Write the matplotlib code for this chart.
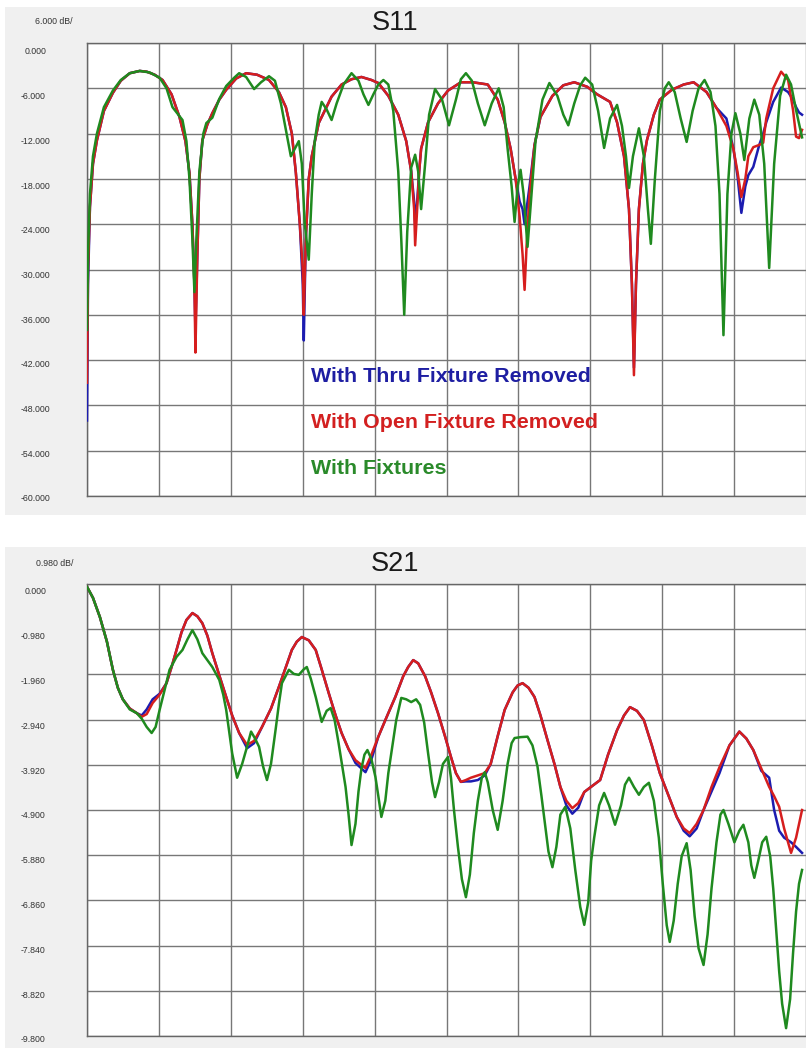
import matplotlib
matplotlib.use("Agg")
import matplotlib.pyplot as plt
from matplotlib.patches import Rectangle

# ---------------- data (x in grid divisions / GHz, y in dB) ----------------
s11_x = [0.000, 0.014, 0.041, 0.083, 0.138, 0.235, 0.360, 0.470, 0.595, 0.733,
         0.830, 0.941, 1.051, 1.176, 1.286, 1.369, 1.425, 1.466, 1.494, 1.508,
         1.535, 1.563, 1.604, 1.674, 1.743, 1.840, 1.936, 2.075, 2.213, 2.365,
         2.531, 2.669, 2.766, 2.849, 2.905, 2.960, 3.001, 3.015, 3.043, 3.084,
         3.126, 3.223, 3.402, 3.541, 3.679, 3.817, 3.956, 4.052, 4.191, 4.329,
         4.440, 4.509, 4.550, 4.564, 4.592, 4.620, 4.647, 4.744, 4.882, 5.021,
         5.200, 5.366, 5.574, 5.712, 5.809, 5.892, 5.961, 6.017, 6.058, 6.086,
         6.113, 6.155, 6.224, 6.307, 6.473, 6.625, 6.777, 6.957, 7.095, 7.275,
         7.372, 7.469, 7.538, 7.579, 7.607, 7.635, 7.676, 7.732, 7.787, 7.884,
         7.967, 8.133, 8.299, 8.437, 8.617, 8.755, 8.893, 8.990, 9.046, 9.101,
         9.156, 9.198, 9.267, 9.350, 9.405, 9.447, 9.544, 9.654, 9.751, 9.820,
         9.862, 9.903, 9.945]
s11_open = [-45, -30, -21.7, -16, -12.9, -9, -6.6, -5, -4.0, -3.7,
            -3.8, -4.2, -4.9, -6.8, -9.8, -13, -17.2, -24, -32, -41,
            -28, -18, -12.9, -10.8, -9.3, -7.5, -6.2, -4.7, -4.0, -4.2,
            -4.9, -6.5, -8.5, -12, -17.2, -24, -30, -36, -26, -18,
            -15, -10.6, -7.1, -5.5, -4.8, -4.5, -4.9, -5.3, -7, -9.5,
            -13, -17, -22, -26.8, -22, -17, -14, -10.5, -8, -6.3,
            -5.2, -5.2, -5.5, -7.5, -10.5, -14, -18, -23, -28, -32.7,
            -27, -20, -13.5, -9.8, -7, -5.6, -5.2, -5.8, -6.8, -7.8,
            -10.5, -15, -22, -32, -44, -32, -22, -16, -12.9, -9.5,
            -7.5, -6.2, -5.5, -5.2, -6.5, -8.6, -11, -14, -17, -20.4,
            -18, -15, -13.8, -13.5, -13.2, -10, -6, -3.8, -4.9, -8.9,
            -12.4, -12.6, -11.5]
s11_thru = [-50, -32, -21.7, -16, -12.9, -9, -6.6, -5, -4.0, -3.7,
            -3.8, -4.2, -4.9, -6.8, -9.8, -13, -17.2, -24, -32, -38,
            -28, -18, -12.9, -10.8, -9.3, -7.5, -6.2, -4.7, -4.0, -4.2,
            -4.9, -6.5, -8.5, -12, -17.2, -24, -32, -39.4, -26, -18,
            -15, -10.6, -7.1, -5.5, -4.8, -4.5, -4.9, -5.3, -7, -9.5,
            -13, -17, -21, -24, -21, -17, -14, -10.5, -8, -6.3,
            -5.2, -5.2, -5.5, -7.5, -10.5, -14, -18, -21, -22, -24,
            -22, -19, -13.5, -9.8, -7, -5.6, -5.2, -5.8, -6.8, -7.8,
            -10.5, -15, -22, -32, -43, -32, -22, -16, -12.9, -9.5,
            -7.5, -6.2, -5.5, -5.2, -6.5, -8.6, -10, -14, -17.5, -22.5,
            -19, -17.5, -16.4, -13.5, -12, -10.5, -7.8, -5.9, -6.5, -7.5,
            -8.5, -9.2, -9.5]

s11_fix_x = [0.000, 0.014, 0.041, 0.083, 0.138, 0.235, 0.360, 0.470, 0.595, 0.733,
             0.871, 1.010, 1.106, 1.189, 1.328, 1.383, 1.425, 1.466, 1.494, 1.521,
             1.563, 1.618, 1.660, 1.743, 1.840, 1.936, 2.047, 2.116, 2.213, 2.324,
             2.420, 2.531, 2.614, 2.697, 2.766, 2.835, 2.891, 2.946, 2.988, 3.029,
             3.084, 3.126, 3.167, 3.223, 3.264, 3.333, 3.402, 3.472, 3.568, 3.679,
             3.776, 3.845, 3.914, 3.983, 4.052, 4.122, 4.191, 4.260, 4.329, 4.371,
             4.412, 4.454, 4.509, 4.564, 4.606, 4.647, 4.703, 4.758, 4.841, 4.938,
             5.035, 5.131, 5.200, 5.270, 5.353, 5.436, 5.532, 5.629, 5.726, 5.795,
             5.850, 5.906, 5.947, 5.989, 6.030, 6.072, 6.127, 6.183, 6.238, 6.335,
             6.431, 6.542, 6.625, 6.694, 6.777, 6.860, 6.929, 7.026, 7.109, 7.192,
             7.275, 7.372, 7.441, 7.496, 7.538, 7.593, 7.676, 7.745, 7.801, 7.842,
             7.898, 7.967, 8.036, 8.091, 8.174, 8.257, 8.340, 8.423, 8.506, 8.589,
             8.672, 8.741, 8.797, 8.852, 8.907, 8.963, 9.018, 9.087, 9.142, 9.212,
             9.281, 9.350, 9.419, 9.488, 9.557, 9.640, 9.723, 9.792, 9.862, 9.945]
s11_fix = [-38, -28, -20, -15, -12, -8.5, -6.3, -4.9, -4.0, -3.7,
           -3.9, -4.6, -6.0, -8.5, -10.2, -13, -18, -26, -33, -26,
           -17, -12, -10.6, -9.9, -7.4, -5.7, -4.6, -4.0, -4.5, -6.1,
           -5.2, -4.4, -5, -8, -11.5, -15, -14, -13, -16, -24,
           -28.7, -20, -13, -9.5, -7.8, -8.8, -10.2, -8, -5.5, -4.0,
           -5, -6.8, -8.2, -6.8, -5.5, -4.9, -5.5, -9, -17, -26,
           -36, -25, -16.5, -14.8, -17, -22, -16, -9.5, -6.1, -7.5,
           -10.9, -7.5, -4.8, -4.0, -5, -8, -10.9, -8, -6.0, -8.5,
           -14, -19, -23.7, -19, -16.8, -20, -27, -20, -13, -7.5,
           -5.3, -7, -9.5, -10.9, -8, -5.6, -4.6, -5.5, -9, -13.9,
           -10, -8.2, -11, -15, -19.2, -15, -11.3, -15, -22, -26.6,
           -18, -9, -6, -5.2, -6.5, -10, -13.1, -9, -6, -4.9,
           -6.5, -11, -20, -38.7, -20, -12, -9.3, -12, -15.5, -10,
           -7.5, -9.5, -16, -29.8, -16, -7, -4.2, -5.5, -8.9, -12.5]

s21_x = [0.000, 0.083, 0.180, 0.277, 0.360, 0.429, 0.498, 0.595, 0.692, 0.761,
         0.830, 0.913, 1.010, 1.106, 1.176, 1.245, 1.314, 1.383, 1.466, 1.535,
         1.604, 1.674, 1.743, 1.840, 1.936, 2.019, 2.116, 2.227, 2.324, 2.434,
         2.559, 2.669, 2.766, 2.849, 2.918, 2.988, 3.084, 3.181, 3.264, 3.361,
         3.458, 3.541, 3.638, 3.734, 3.873, 3.956, 4.052, 4.163, 4.288, 4.398,
         4.467, 4.537, 4.606, 4.703, 4.786, 4.882, 4.979, 5.062, 5.131, 5.200,
         5.270, 5.339, 5.436, 5.532, 5.615, 5.712, 5.809, 5.920, 5.989, 6.058,
         6.141, 6.224, 6.307, 6.404, 6.501, 6.584, 6.667, 6.750, 6.833, 6.916,
         7.026, 7.137, 7.247, 7.372, 7.469, 7.552, 7.649, 7.745, 7.856, 7.967,
         8.091, 8.202, 8.299, 8.382, 8.479, 8.575, 8.686, 8.797, 8.935, 9.073,
         9.170, 9.267, 9.378, 9.488, 9.557, 9.627, 9.696, 9.792, 9.862, 9.945]
s21_open = [-0.06, -0.3, -0.72, -1.25, -1.86, -2.25, -2.5, -2.7, -2.8, -2.88,
            -2.82, -2.58, -2.4, -2.15, -1.8, -1.43, -1.05, -0.78, -0.63, -0.7,
            -0.85, -1.12, -1.5, -1.98, -2.45, -2.85, -3.23, -3.49, -3.4, -3.1,
            -2.7, -2.23, -1.8, -1.43, -1.25, -1.15, -1.22, -1.43, -1.85, -2.36,
            -2.85, -3.23, -3.58, -3.82, -3.99, -3.7, -3.31, -2.9, -2.45, -2.0,
            -1.8, -1.65, -1.72, -2.0, -2.35, -2.8, -3.3, -3.75, -4.1, -4.29,
            -4.25, -4.2, -4.15, -4.1, -3.9, -3.3, -2.73, -2.35, -2.2, -2.15,
            -2.25, -2.45, -2.85, -3.38, -3.9, -4.4, -4.7, -4.86, -4.75, -4.51,
            -4.38, -4.25, -3.7, -3.17, -2.85, -2.67, -2.75, -2.95, -3.5, -4.1,
            -4.6, -5.05, -5.3, -5.4, -5.2, -4.9, -4.4, -3.97, -3.5, -3.2,
            -3.35, -3.6, -4.0, -4.4, -4.6, -4.83, -5.3, -5.83, -5.5, -4.9]
s21_thru = [-0.06, -0.3, -0.72, -1.25, -1.86, -2.25, -2.5, -2.7, -2.8, -2.85,
            -2.72, -2.5, -2.38, -2.15, -1.8, -1.43, -1.05, -0.78, -0.63, -0.7,
            -0.85, -1.12, -1.5, -1.98, -2.45, -2.85, -3.23, -3.56, -3.45, -3.1,
            -2.7, -2.23, -1.8, -1.43, -1.25, -1.15, -1.22, -1.43, -1.85, -2.36,
            -2.85, -3.23, -3.58, -3.88, -4.08, -3.8, -3.31, -2.9, -2.45, -2.0,
            -1.8, -1.65, -1.72, -2.0, -2.35, -2.8, -3.3, -3.75, -4.1, -4.29,
            -4.28, -4.28, -4.25, -4.15, -3.9, -3.3, -2.73, -2.35, -2.2, -2.15,
            -2.25, -2.45, -2.85, -3.38, -3.9, -4.4, -4.8, -4.98, -4.85, -4.51,
            -4.38, -4.25, -3.7, -3.17, -2.85, -2.67, -2.75, -2.95, -3.5, -4.1,
            -4.6, -5.05, -5.35, -5.47, -5.3, -4.9, -4.5, -4.1, -3.5, -3.2,
            -3.35, -3.6, -4.05, -4.2, -4.9, -5.35, -5.5, -5.6, -5.7, -5.83]

s21_fix_x = [0.000, 0.083, 0.180, 0.277, 0.360, 0.429, 0.498, 0.595, 0.692, 0.761,
             0.830, 0.899, 0.954, 1.010, 1.079, 1.148, 1.245, 1.328, 1.397, 1.466,
             1.535, 1.604, 1.674, 1.743, 1.840, 1.895, 1.936, 1.978, 2.019, 2.088,
             2.158, 2.213, 2.282, 2.337, 2.393, 2.448, 2.503, 2.559, 2.628, 2.669,
             2.711, 2.808, 2.877, 2.946, 3.015, 3.057, 3.112, 3.181, 3.264, 3.333,
             3.389, 3.444, 3.499, 3.555, 3.596, 3.638, 3.679, 3.734, 3.776, 3.817,
             3.859, 3.900, 3.956, 4.011, 4.052, 4.094, 4.149, 4.191, 4.232, 4.301,
             4.371, 4.440, 4.509, 4.578, 4.633, 4.689, 4.744, 4.799, 4.841, 4.896,
             4.951, 5.021, 5.062, 5.104, 5.159, 5.214, 5.270, 5.325, 5.380, 5.436,
             5.491, 5.532, 5.574, 5.643, 5.712, 5.781, 5.850, 5.906, 5.947, 6.030,
             6.127, 6.196, 6.265, 6.321, 6.362, 6.418, 6.473, 6.528, 6.584, 6.653,
             6.722, 6.791, 6.860, 6.916, 6.971, 7.012, 7.054, 7.123, 7.192, 7.261,
             7.344, 7.427, 7.483, 7.538, 7.607, 7.676, 7.745, 7.815, 7.884, 7.953,
             8.008, 8.063, 8.105, 8.160, 8.216, 8.271, 8.340, 8.395, 8.451, 8.506,
             8.575, 8.631, 8.686, 8.755, 8.810, 8.852, 8.921, 9.004, 9.073, 9.129,
             9.198, 9.239, 9.281, 9.336, 9.391, 9.447, 9.502, 9.544, 9.585, 9.627,
             9.668, 9.723, 9.779, 9.820, 9.862, 9.903, 9.945]
s21_fix = [-0.06, -0.3, -0.72, -1.25, -1.86, -2.25, -2.5, -2.72, -2.8, -2.92,
           -3.1, -3.23, -3.1, -2.73, -2.3, -1.86, -1.58, -1.43, -1.2, -1.0,
           -1.2, -1.5, -1.65, -1.8, -2.08, -2.4, -2.73, -3.2, -3.67, -4.2,
           -3.9, -3.6, -3.2, -3.35, -3.53, -3.95, -4.25, -3.9, -3.1, -2.6,
           -2.15, -1.86, -1.95, -1.97, -1.85, -1.8, -2.05, -2.45, -2.99, -2.75,
           -2.69, -2.95, -3.45, -4.0, -4.4, -5.0, -5.66, -5.2, -4.5, -4.0,
           -3.7, -3.6, -3.8, -4.18, -4.6, -5.05, -4.7, -4.1, -3.67, -2.95,
           -2.47, -2.5, -2.56, -2.5, -2.62, -3.0, -3.67, -4.3, -4.62, -4.3,
           -3.9, -3.75, -4.2, -4.9, -5.7, -6.4, -6.79, -6.3, -5.4, -4.7,
           -4.2, -4.08, -4.3, -4.9, -5.33, -4.7, -3.9, -3.45, -3.34, -3.32,
           -3.31, -3.5, -3.95, -4.6, -5.1, -5.8, -6.14, -5.7, -5.0, -4.83,
           -5.3, -6.2, -7.0, -7.39, -6.9, -6.0, -5.5, -4.8, -4.53, -4.8,
           -5.22, -4.8, -4.35, -4.2, -4.4, -4.57, -4.4, -4.31, -4.7, -5.5,
           -6.5, -7.4, -7.76, -7.3, -6.5, -5.9, -5.62, -6.2, -7.2, -7.9,
           -8.26, -7.6, -6.6, -5.6, -5.0, -4.9, -5.2, -5.6, -5.35, -5.22,
           -5.6, -6.1, -6.37, -6.0, -5.6, -5.48, -5.9, -6.6, -7.5, -8.4,
           -9.1, -9.63, -9.0, -8.0, -7.1, -6.5, -6.2]

s11_ticks = [0.0, -6.0, -12.0, -18.0, -24.0, -30.0, -36.0, -42.0, -48.0, -54.0, -60.0]
s21_ticks = [0.0, -0.98, -1.96, -2.94, -3.92, -4.90, -5.88, -6.86, -7.84, -8.82, -9.80]
x_ticks = [0, 1, 2, 3, 4, 5, 6, 7, 8, 9, 10]
legend_labels = ["With Thru Fixture Removed", "With Open Fixture Removed", "With Fixtures"]

# ---------------- style / layout ----------------
W, H = 806, 1048
C_BLUE, C_RED, C_GREEN = "#1c1cb0", "#d61e1e", "#1f8a1f"
T_BLUE, T_RED, T_GREEN = "#1e1ea2", "#d32020", "#2a8a2a"
GRID = "#777777"
PANEL = "#f0f0f0"
FONT = "Liberation Sans"

fig = plt.figure(figsize=(W / 100, H / 100), dpi=100)
fig.patch.set_facecolor("white")

def fx(x):
    return x / W

def fy(y):
    return 1 - y / H

for (x0, y0, x1, y1) in [(5, 7, 806, 515), (5, 547, 806, 1048)]:
    fig.patches.append(Rectangle((fx(x0), fy(y1)), (x1 - x0) / W, (y1 - y0) / H,
                                 transform=fig.transFigure, facecolor=PANEL,
                                 edgecolor="none", zorder=-5))

def make_axes(top_px, bot_px, ticks):
    ax = fig.add_axes([fx(87), fy(bot_px), (806 - 87) / W, (bot_px - top_px) / H])
    ax.set_zorder(1)
    ax.set_facecolor("white")
    ax.set_xlim(0, 9.945)
    ax.set_ylim(ticks[-1], ticks[0])
    ax.set_xticks(x_ticks)
    ax.set_yticks(ticks)
    ax.tick_params(length=0, labelleft=False, labelbottom=False)
    ax.grid(True, color=GRID, lw=1.0)
    ax.set_axisbelow(True)
    for s in ("top", "left", "bottom"):
        ax.spines[s].set_color("#666666")
        ax.spines[s].set_linewidth(1.0)
    ax.spines["right"].set_visible(False)
    return ax

ax1 = make_axes(43, 496, s11_ticks)
ax2 = make_axes(584, 1036, s21_ticks)

lw = 1.8
ax1.plot(s11_x, s11_thru, color=C_BLUE, lw=lw, zorder=3)
ax1.plot(s11_x, s11_open, color=C_RED, lw=lw, zorder=4)
ax1.plot(s11_fix_x, s11_fix, color=C_GREEN, lw=lw, zorder=5)

ax2.plot(s21_x, s21_thru, color=C_BLUE, lw=lw, zorder=3)
ax2.plot(s21_x, s21_open, color=C_RED, lw=lw, zorder=4)
ax2.plot(s21_fix_x, s21_fix, color=C_GREEN, lw=lw, zorder=5)

# y labels (offset slightly below gridlines, like the analyzer display)
def ylabels(ticks, first_px, step_px):
    for i, v in enumerate(ticks):
        xpos = 21 if v < 0 else 25
        fig.text(fx(xpos), fy(first_px + i * step_px), f"{v:.3f}", ha="left",
                 va="center", fontsize=6.3, color="#333333", family=FONT)

ylabels(s11_ticks, 52, 44.7)
ylabels(s21_ticks, 592, 44.8)

fig.text(fx(35), fy(22), "6.000 dB/", ha="left", va="center", fontsize=6.3,
         color="#333333", family=FONT)
fig.text(fx(36), fy(563), "0.980 dB/", ha="left", va="center", fontsize=6.3,
         color="#333333", family=FONT)

fig.text(fx(395), fy(23), "S11", ha="center", va="center", fontsize=19.5,
         color="#1a1a1a", family=FONT)
fig.text(fx(395), fy(564), "S21", ha="center", va="center", fontsize=19.5,
         color="#1a1a1a", family=FONT)

# legend texts drawn inside the S11 plot area, above the traces
for lab, col, ypx in zip(legend_labels, [T_BLUE, T_RED, T_GREEN], [376, 422, 468]):
    t = fig.text(fx(311), fy(ypx), lab, ha="left", va="center", fontsize=15.4,
                 fontweight="bold", color=col, family=FONT)
    t.set_zorder(10)

fig.savefig("out.png", dpi=100, facecolor=fig.get_facecolor())
